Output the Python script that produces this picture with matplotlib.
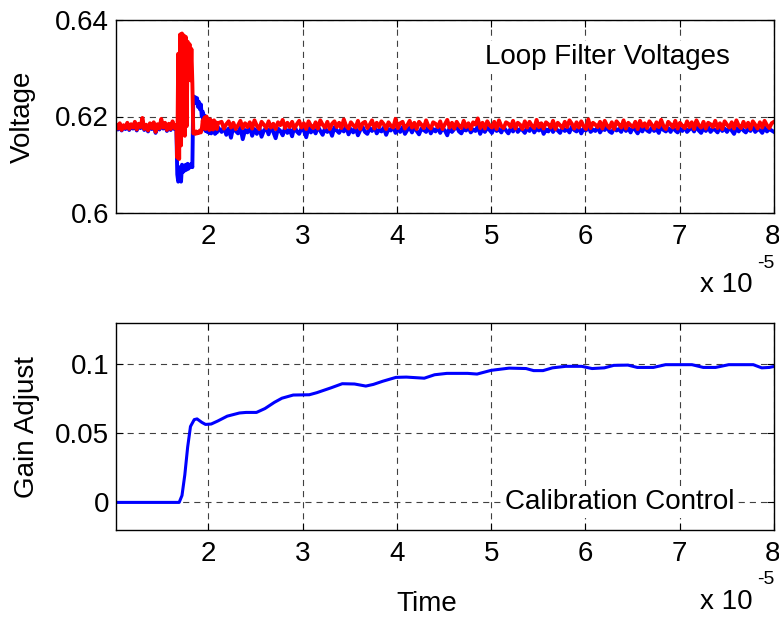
import matplotlib
matplotlib.use("Agg")
import matplotlib.pyplot as plt
import matplotlib.transforms as mtransforms
import numpy as np

plt.rcParams["font.family"] = ["Liberation Sans", "DejaVu Sans"]
FS = 20

# time axis in units of 1e-5 s; each segment starts/ends at these times
pre_span = (1.02, 1.66)
jump_span = (1.67, 2.10)
settle_span = (2.14, 8.0)


def ints(s):
    return [int(v) for v in s.split()]


# loop filter voltages, offsets from 0.618 V in units of 0.1 mV
red_pre = [3, -5, 6, -8, 2, -4, 7, -6, 4, -3, 9, -7, 5, -2, 17, -6, 3, -9, 6, -4,
           8, -12, 4, -5, 15, -3, 7, -8, 5, -6, 10, -4, 2]
blue_pre = [1, -7, 4, -9, 0, -6, 5, -8, 2, -5, 7, -9, 3, -4, 12, -8, 1, -11, 4, -6,
            6, -14, 2, -7, 11, -5, 5, -10, 3, -8, 8, -6, 0]
red_jump = [-65, 150, -68, 190, -40, 192, -10, 188, -20, 185, 0, 175, 110, 170, 95,
            160, 90, -15, -12, -16, -11, -15, -12, -14, -9, -13, -6, 12, -4, 18,
            -6, 20, -3, 10, -8, 14, -5, 9, -7, 12, -4, 8, -6, 6]
blue_jump = [-100, -115, -112, -85, -115, -80, -95, -82, -92, -80, -90, -78, -88, -80,
             -85, -78, -85, 62, 55, 60, 48, 58, 40, 50, 35, 45, 20, 30, -5, 22,
             -10, 15, -12, 8, -14, 5, -15, 2, -12, 4, -16, 0, -13, -2]
red_settle = ints("""
9 -5 4 10 -3 7 -6 2 11 -4 6 -2 8 -5 12 1 -6 9 3 -4
10 -3 5 -6 8 2 13 -4 7 -2 9 -5 4 11 -3 6 -6 10 1 -4
8 -5 12 3 -3 9 -6 5 10 -2 7 -4 14 0 -5 8 2 -3 11 -6
6 9 -4 3 12 -5 7 -2 10 4 -6 8 1 -3 15 -4 6 9 -5 2
11 -3 7 -6 9 3 -4 12 0 -5 8 5 -2 10 -6 4 13 -3 7 -5
9 1 -4 11 -2 6 -6 8 3 16 -4 7 -5 10 2 -3 9 -6 12 0
-4 8 5 -2 11 -5 7 3 -6 10 -3 9 1 -4 13 -2 6 -5 8 4
-3 11 -6 7 2 -4 9 -2 12 5 -5 8 -3 10 0 -6 14 -4 7 3
-2 9 -5 11 1 -4 8 -6 10 4 -3 12 -5 7 2 -2 9 -6 11 -1
6 -4 10 3 -5 8 -2 13 0 -6 9 4 -3 11 -5 7 1 -4 10 -2
8 -6 12 2 -3 9 -5 7 4 -2 11 -4 6 -6 10 3 -3 8 -5 12
1 -4 9 -2 7 -6 10 3 -5 8 -3 11 2 -4 6 9
""")
blue_settle = ints("""
-12 -2 -18 -5 -24 -1 -10 -15 -3 -27 -8 -13 0 -20 -6 -16 -2 -22 -9 -4
-17 -1 -12 -25 -5 -10 -19 -3 -14 -7 -21 0 -11 -16 -4 -9 -23 -2 -13 -6
-15 -1 -10 -18 -4 -12 -7 -20 -2 -9 -14 -5 -11 0 -17 -6 -13 -3 -19 -8
-2 -12 -16 -4 -10 -1 -15 -7 -11 -3 -18 -6 -9 0 -14 -5 -12 -2 -16 -8
-3 -13 -1 -10 -17 -5 -8 -12 0 -15 -6 -11 -2 -14 -4 -9 -19 -3 -12 -6
-1 -11 -15 -4 -9 -2 -13 -7 -10 0 -16 -5 -12 -3 -8 -14 -1 -10 -6 -13
-2 -9 -15 -4 -11 0 -12 -6 -8 -14 -3 -10 -1 -13 -5 -9 -2 -16 -7 -11
0 -12 -4 -9 -14 -2 -10 -6 -13 -1 -8 -11 -3 -15 -5 -9 0 -12 -7 -10
-2 -13 -5 -8 -1 -11 -14 -3 -9 -6 -12 0 -10 -4 -13 -2 -8 -15 -5 -11
-1 -9 -12 -3 -10 -6 -14 0 -8 -11 -4 -12 -2 -9 -13 -5 -10 -1 -12 -7
-3 -11 0 -9 -14 -4 -10 -2 -12 -6 -8 -13 -1 -10 -5 -12 -3 -9 -16 -4
-11 -2 -9 -13 -5 -10 0 -12 -7 -8 -14 -3 -11 -6 -9 -12
""")

# calibration control (gain adjust)
gain_t = [1.02, 1.69, 1.72, 1.75, 1.78, 1.81, 1.85, 1.88, 1.93, 1.97, 2.03, 2.1, 2.2,
          2.33, 2.4, 2.51, 2.6, 2.7, 2.78, 2.9, 3.07, 3.15, 3.3, 3.42, 3.55, 3.67,
          3.75, 3.85, 3.99, 4.1, 4.29, 4.4, 4.53, 4.75, 4.85, 5.0, 5.19, 5.37, 5.45,
          5.55, 5.65, 5.79, 5.96, 6.07, 6.2, 6.3, 6.45, 6.55, 6.72, 6.85, 7.13, 7.25,
          7.38, 7.52, 7.78, 7.87, 7.95, 8.0]
gain = [0, 0, 0.005, 0.02, 0.04, 0.055, 0.06, 0.0605, 0.058, 0.0565, 0.0568, 0.059,
        0.0625, 0.0648, 0.0652, 0.0652, 0.068, 0.0725, 0.0755, 0.0778, 0.078, 0.0795,
        0.083, 0.086, 0.0858, 0.0843, 0.0855, 0.0878, 0.0906, 0.0908, 0.090, 0.0925,
        0.0935, 0.0935, 0.093, 0.0957, 0.0973, 0.097, 0.0955, 0.0955, 0.0975, 0.0986,
        0.0986, 0.097, 0.0975, 0.0993, 0.0995, 0.0978, 0.0978, 0.0998, 0.0998, 0.0978,
        0.0978, 0.0998, 0.0998, 0.0975, 0.0978, 0.0985]


def trace(pre, jump, settle):
    t = np.concatenate([
        np.linspace(*pre_span, len(pre)),
        np.linspace(*jump_span, len(jump)),
        np.linspace(*settle_span, len(settle)),
    ])
    v = 0.618 + np.concatenate([pre, jump, settle]) * 1e-4
    return t, v


def style_axes(ax, fig):
    ax.set_xlim(1.02, 8.0)
    ax.set_xticks([2, 3, 4, 5, 6, 7, 8])
    ax.grid(True, color="0.25", linestyle=(0, (5.5, 4.5)), linewidth=0.8)
    ax.tick_params(direction="in", top=True, right=True, length=5, labelsize=FS)
    ax.tick_params(axis="x", pad=8)
    ax.tick_params(axis="y", pad=5)
    for sp in ax.spines.values():
        sp.set_linewidth(1.0)
    # keep the last tick label inside the figure
    last = ax.get_xticklabels()[-1]
    shift = mtransforms.ScaledTranslation(-2 / 100, 0, fig.dpi_scale_trans)
    last.set_transform(last.get_transform() + shift)


fig = plt.figure(figsize=(7.79, 6.2), dpi=100)
W, H = 779, 620
ax1 = fig.add_axes([116 / W, 1 - 213 / H, 658 / W, 193 / H])
ax2 = fig.add_axes([116 / W, 1 - 530 / H, 658 / W, 207 / H])

ax1.plot(*trace(blue_pre, blue_jump, blue_settle), color="#0000ff", lw=2.8)
ax1.plot(*trace(red_pre, red_jump, red_settle), color="#ff0000", lw=2.8)
ax1.set_ylim(0.6, 0.64)
ax1.set_yticks([0.6, 0.62, 0.64])
ax1.set_yticklabels(["0.6", "0.62", "0.64"])
style_axes(ax1, fig)

ax2.plot(gain_t, gain, color="#0000ff", lw=2.2)
ax2.set_ylim(-0.02, 0.13)
ax2.set_yticks([0, 0.05, 0.1])
ax2.set_yticklabels(["0", "0.05", "0.1"])
style_axes(ax2, fig)


def px(x, y):
    return x / W, 1 - y / H


fig.text(*px(23, 117), "Voltage", fontsize=FS, rotation=90, ha="center", va="center")
fig.text(*px(27, 427), "Gain Adjust", fontsize=FS, rotation=90, ha="center",
         va="center")
fig.text(*px(427, 604), "Time", fontsize=FS, ha="center", va="center")

box = dict(facecolor="white", edgecolor="none", pad=2)
fig.text(*px(485, 57), "Loop Filter Voltages", fontsize=FS, ha="left",
         va="center", bbox=box)
fig.text(*px(505, 502), "Calibration Control", fontsize=FS, ha="left",
         va="center", bbox=box)

for y_base in (285, 602):
    fig.text(*px(700, y_base), "x 10", fontsize=FS, ha="left", va="center")
    fig.text(*px(757, y_base - 22), "-5", fontsize=14, ha="left", va="center")

fig.savefig("out.png", dpi=100)
